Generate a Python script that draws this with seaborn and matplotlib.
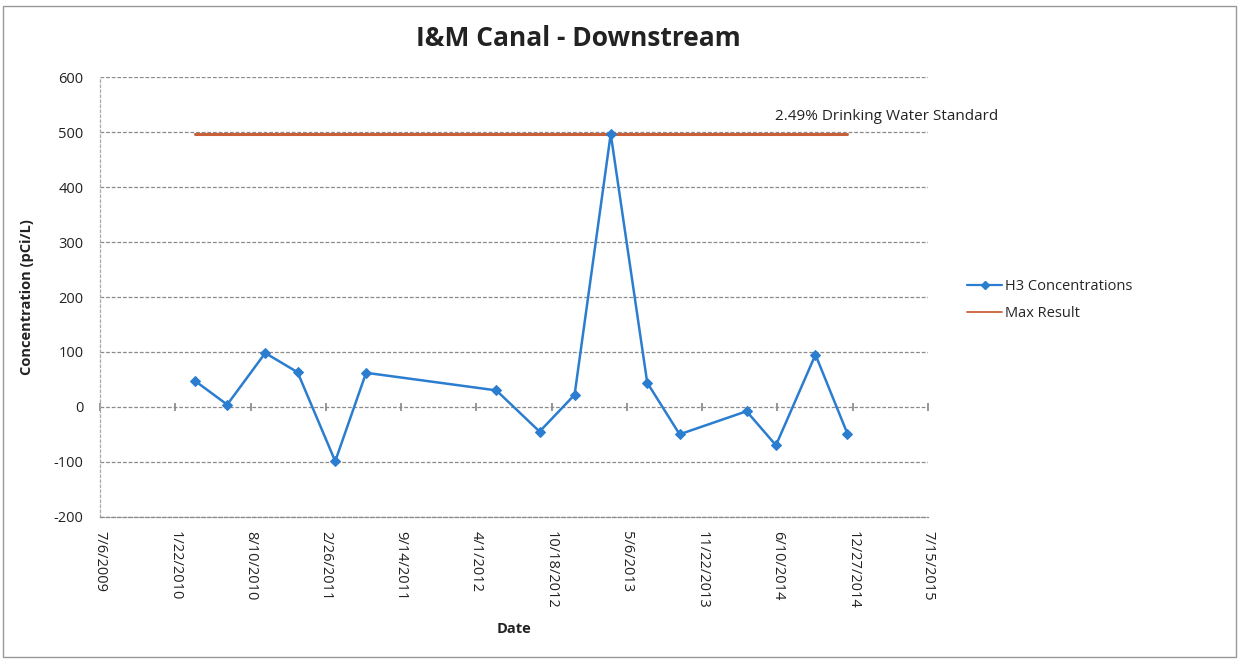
import matplotlib
matplotlib.use("Agg")
import matplotlib.pyplot as plt
from matplotlib.lines import Line2D
from matplotlib.patches import Rectangle
import seaborn as sns
import pandas as pd

# ---- data ----
sample_dates = ["2010-03-16", "2010-06-09", "2010-09-18", "2010-12-13",
                "2011-03-23", "2011-06-13", "2012-05-24", "2012-09-16",
                "2012-12-18", "2013-03-24", "2013-06-29", "2013-09-23",
                "2014-03-20", "2014-06-06", "2014-09-19", "2014-12-13"]
h3_values = [47, 4, 98, 63, -99, 62, 30, -45, 22, 497, 44, -50, -8, -70, 95, -49]
max_result = 497
x_tick_labels = ["7/6/2009", "1/22/2010", "8/10/2010", "2/26/2011", "9/14/2011",
                 "4/1/2012", "10/18/2012", "5/6/2013", "11/22/2013", "6/10/2014",
                 "12/27/2014", "7/15/2015"]
y_ticks = [-200, -100, 0, 100, 200, 300, 400, 500, 600]

title = "I&M Canal - Downstream"
annotation = "2.49% Drinking Water Standard"

df = pd.DataFrame({"Date": pd.to_datetime(sample_dates), "H3": h3_values})
df_max = pd.DataFrame({"Date": pd.to_datetime([sample_dates[0], sample_dates[-1]]),
                       "Max": [max_result, max_result]})
tick_dates = pd.to_datetime(x_tick_labels, format="%m/%d/%Y")

sns.set_theme(style="white")
plt.rcParams["font.family"] = ["Open Sans", "DejaVu Sans"]

blue = "#2a7dcf"
red = "#c9603a"
grid_c = "#8a8a8a"
grid_ls = (0, (3, 1.5))

fig = plt.figure(figsize=(12.39, 6.60), dpi=100)
ax = fig.add_axes([100 / 1239, 1 - 516.7 / 660, (928 - 100) / 1239, (516.7 - 77.3) / 660])

sns.lineplot(data=df_max, x="Date", y="Max", ax=ax, color=red, linewidth=2.2, zorder=3)
sns.lineplot(data=df, x="Date", y="H3", ax=ax, color=blue, linewidth=1.8,
             marker="D", markersize=5.5, markeredgecolor=blue, zorder=4)

ax.set_xlim(tick_dates[0], tick_dates[-1])
ax.set_ylim(-200, 600)
ax.set_yticks(y_ticks)
ax.set_xticks(tick_dates)
ax.set_xticklabels(x_tick_labels, rotation=270, fontsize=10.5, color="#222222")
ax.set_yticklabels([str(v) for v in y_ticks], fontsize=10.5, color="#222222")
ax.tick_params(axis="both", length=0)
ax.tick_params(axis="y", pad=12)
ax.tick_params(axis="x", pad=10)

ax.grid(axis="y", color=grid_c, linestyle=grid_ls, linewidth=0.9)
ax.grid(axis="x", visible=False)
for s in ["top", "right"]:
    ax.spines[s].set_visible(False)
ax.spines["bottom"].set_color(grid_c)
ax.spines["bottom"].set_linestyle(grid_ls)
ax.spines["bottom"].set_linewidth(0.9)
ax.spines["left"].set_color("#aaaaaa")
ax.spines["left"].set_linestyle((0, (2, 2)))
ax.spines["left"].set_linewidth(0.9)

# horizontal axis crossing at zero with tick marks
sec = ax.secondary_xaxis(0.25)
sec.set_xticks(tick_dates)
sec.tick_params(axis="x", direction="inout", length=6, color=grid_c, labelbottom=False)
sec.spines["bottom"].set_visible(False)
sec.set_xticklabels([])

ax.set_xlabel("Date", fontsize=10.5, fontweight="bold", labelpad=10, color="#222222")
ax.set_ylabel("Concentration (pCi/L)", fontsize=10.5, fontweight="bold", labelpad=14,
              color="#222222")

fig.text(775 / 1239, 1 - 117 / 660, annotation, ha="left", va="center",
         fontsize=11, color="#222222")

fig.text(578 / 1239, 1 - 38 / 660, title, ha="center", va="center",
         fontsize=19, fontweight="bold", color="#222222")

handles = [Line2D([], [], color=blue, linewidth=1.6, marker="D", markersize=4.5),
           Line2D([], [], color=red, linewidth=1.3)]
fig.legend(handles, ["H3 Concentrations", "Max Result"], loc="upper left",
           bbox_to_anchor=(954 / 1239, 1 - 266 / 660), frameon=False,
           fontsize=10.5, handlelength=2.4, handletextpad=0.2, labelspacing=0.8)

fig.patches.append(Rectangle((3 / 1239, 3 / 660), 1233 / 1239, 651 / 660,
                             transform=fig.transFigure, fill=False,
                             edgecolor="#999999", linewidth=1.0))

fig.savefig("out.png", dpi=100)
